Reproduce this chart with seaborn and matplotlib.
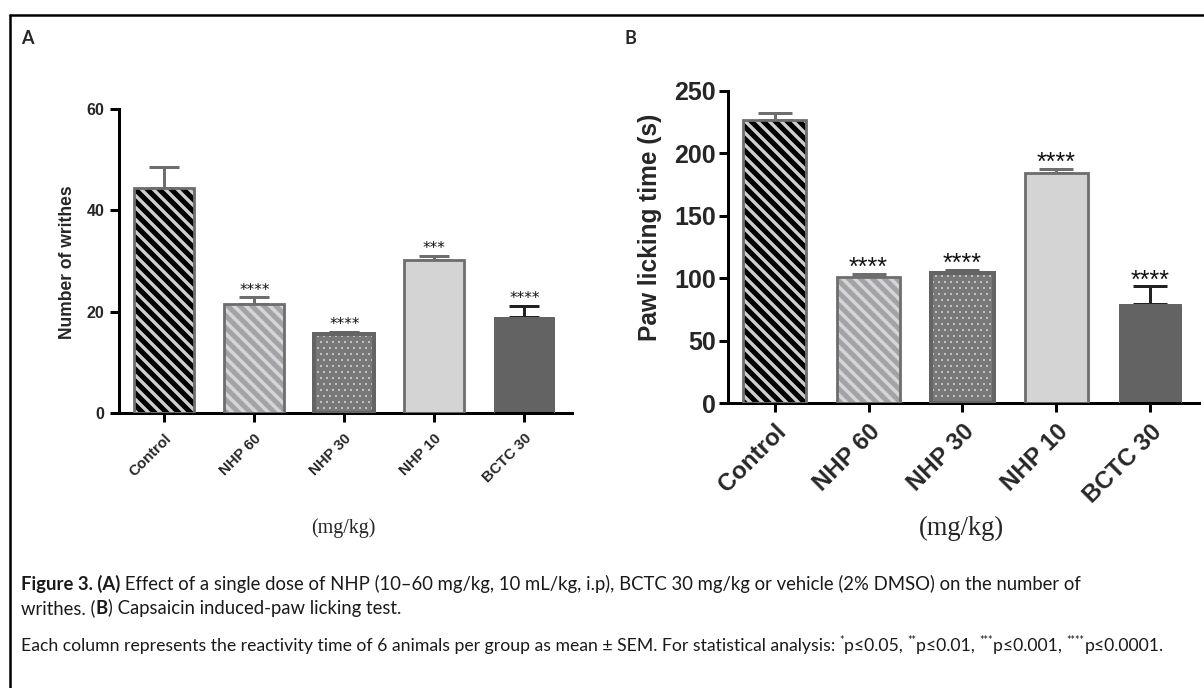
import numpy as np
import pandas as pd
import matplotlib
matplotlib.use("Agg")
import matplotlib.pyplot as plt
from matplotlib.lines import Line2D
import seaborn as sns

# ---------------- data ----------------
groups = ["Control", "NHP 60", "NHP 30", "NHP 10", "BCTC 30"]
writhes_mean = [44.5, 21.6, 15.5, 30.2, 19.0]
writhes_sem = [4.0, 1.2, 0.5, 0.8, 2.2]
writhes_stars = ["", "****", "****", "***", "****"]
lick_mean = [226.5, 100.8, 104.4, 183.9, 79.5]
lick_sem = [5.9, 2.4, 2.2, 3.2, 14.0]
lick_stars = ["", "****", "****", "****", "****"]
yticks_a = [0, 20, 40, 60]
yticks_b = [0, 50, 100, 150, 200, 250]
ylabel_a = "Number of writhes"
ylabel_b = "Paw licking time (s)"
xlabel = "(mg/kg)"

caption1 = [("Figure 3. (A)", "bold"),
            (" Effect of a single dose of NHP (10\u201360 mg/kg, 10 mL/kg, i.p), BCTC 30 mg/kg or vehicle (2% DMSO) on the number of", "normal")]
caption2 = [("writhes. (", "normal"), ("B", "bold"), (") Capsaicin induced-paw licking test.", "normal")]
caption3 = [("Each column represents the reactivity time of 6 animals per group as mean \u00b1 SEM. For statistical analysis: ", "normal", False),
            ("*", "normal", True), ("p\u22640.05, ", "normal", False),
            ("**", "normal", True), ("p\u22640.01, ", "normal", False),
            ("***", "normal", True), ("p\u22640.001, ", "normal", False),
            ("****", "normal", True), ("p\u22640.0001.", "normal", False)]

# ---------------- style ----------------
face = ["#000000", "#a3a3a7", "#787878", "#d4d4d4", "#636363"]
hatch_col = ["#cdcdcd", "#d5d5d5", "#e2e2e2", "#d4d4d4", "#636363"]
hatches = ["\\\\", "\\\\", "..", "", ""]
hatch_lw = [3.4, 3.6, 0.6, 0.5, 0.5]
edge = ["#6e6e6e", "#6e6e6e", "#646464", "#6e6e6e", "#636363"]
edge_lw = [2.8, 2.8, 4.0, 2.8, 1.0]
err_col = ["#6e6e6e", "#6e6e6e", "#646464", "#6e6e6e", "#222222"]

sns.set_theme(style="ticks")
plt.rcParams["font.family"] = ["Liberation Sans", "DejaVu Sans"]
plt.rcParams["hatch.linewidth"] = 3.5

W, H = 1204, 688
fig = plt.figure(figsize=(W / 72, H / 72), dpi=72)
fig.patch.set_facecolor("white")


def px_axes(x0, x1, y_top, y_bot):
    return fig.add_axes([x0 / W, 1 - y_bot / H, (x1 - x0) / W, (y_bot - y_top) / H])


def panel(ax, means, sems, stars, yticks, ylim, xlim, tick_fs, xtick_fs, star_fs,
          star_off, capsize, star_family):
    df = pd.DataFrame({"group": groups, "value": means})
    n = len(groups)
    sns.barplot(data=df, x="group", y="value", hue="group", palette=face, legend=False,
                width=0.665, errorbar=None, saturation=1, ax=ax)
    base = list(ax.patches)
    sns.barplot(data=df, x="group", y="value", hue="group", palette=face, legend=False,
                width=0.665, errorbar=None, saturation=1, ax=ax)
    outline = list(ax.patches)[n:]
    for i, p in enumerate(base):
        p.set_facecolor(face[i])
        p.set_edgecolor(hatch_col[i])
        p.set_hatch(hatches[i] if hatches[i] else None)
        p.set_linewidth(0)
        if hasattr(p, "set_hatch_linewidth"):
            p.set_hatch_linewidth(hatch_lw[i])
        else:
            p._hatch_linewidth = hatch_lw[i]
        p.set_zorder(2)
    for i, p in enumerate(outline):
        p.set_facecolor("none")
        p.set_edgecolor(edge[i])
        p.set_linewidth(edge_lw[i])
        p.set_hatch(None)
        p.set_zorder(3)
    for i in range(n):
        ax.errorbar([i], [means[i]], yerr=[[0], [sems[i]]], fmt="none", ecolor=err_col[i],
                    elinewidth=3, capsize=capsize, capthick=3, zorder=1)
        if stars[i]:
            ax.annotate(stars[i], xy=(i, means[i] + sems[i]), xytext=(0, star_off),
                        textcoords="offset points", ha="center", va="baseline",
                        fontsize=star_fs, color="#111111", family=star_family)
    ax.set_xlim(*xlim)
    ax.set_ylim(*ylim)
    ax.set_yticks(yticks)
    ax.set_yticklabels([str(t) for t in yticks], fontsize=tick_fs, fontweight="bold")
    ax.set_xticks(range(n))
    ax.set_xticklabels(groups, rotation=45, ha="right", rotation_mode="anchor",
                       fontsize=xtick_fs, fontweight="bold")
    sns.despine(ax=ax)
    for s in ("left", "bottom"):
        ax.spines[s].set_linewidth(3)
        ax.spines[s].set_color("black")
    ax.tick_params(axis="both", length=9, width=3, color="black", direction="out")
    ax.set_facecolor("white")


# Panel A
axA = px_axes(119.3, 572, 109, 413)
panel(axA, writhes_mean, writhes_sem, writhes_stars, yticks_a, (0, 60), (-0.5, 4.53),
      16, 15, 15, 2.5, 15, ["DejaVu Sans"])
axA.tick_params(axis="y", pad=6)
axA.tick_params(axis="x", pad=9)
axA.set_ylabel(ylabel_a, fontsize=17.5, fontweight="bold", va="center")
axA.yaxis.set_label_coords(-0.1155, 0.497)
axA.set_xlabel(xlabel, fontsize=20, family=["Liberation Serif"], va="center")
axA.xaxis.set_label_coords(0.494, -0.378)

# Panel B
axB = px_axes(727.7, 1199, 90.7, 403.3)
panel(axB, lick_mean, lick_sem, lick_stars, yticks_b, (0, 250), (-0.5, 4.52),
      25, 24, 25, -1, 17, ["Liberation Sans"])
axB.tick_params(axis="y", pad=3)
axB.tick_params(axis="x", pad=8)
axB.set_ylabel(ylabel_b, fontsize=24.5, fontweight="bold", va="center")
axB.yaxis.set_label_coords(-0.165, 0.564)
axB.set_xlabel(xlabel, fontsize=26.5, family=["Liberation Serif"], va="center")
axB.xaxis.set_label_coords(0.495, -0.399)

# panel letters
fig.text(27 / W, 1 - 38 / H, "A", ha="center", va="center", fontsize=18, fontweight="bold",
         family=["Lato", "DejaVu Sans"])
fig.text(630 / W, 1 - 38 / H, "B", ha="center", va="center", fontsize=18, fontweight="bold",
         family=["Lato", "DejaVu Sans"])

# frame lines
fig.add_artist(Line2D([9.5 / W, 1], [1 - 15 / H, 1 - 15 / H], color="black", lw=2.5,
                      transform=fig.transFigure))
fig.add_artist(Line2D([9.5 / W, 9.5 / W], [0, 1 - 15 / H], color="black", lw=2.5,
                      transform=fig.transFigure))

# caption
cap = fig.add_axes([0, 0, 1, 1], zorder=-5)
cap.axis("off")
cap.set_xlim(0, W)
cap.set_ylim(H, 0)
cap_family = ["Lato", "DejaVu Sans"]


def caption_line(y, pieces, fs):
    first = None
    prev = None
    for pc in pieces:
        txt, wt = pc[0], pc[1]
        sup = pc[2] if len(pc) > 2 else False
        size = fs * 0.6 if sup else fs
        if first is None:
            t = cap.text(21, y, txt, fontsize=size, fontweight=wt, family=cap_family,
                         ha="left", va="baseline", color="#1a1a1a")
            first = t
        else:
            t = cap.annotate(txt, xy=(1, 0), xycoords=(prev, first),
                             xytext=(0, fs * 0.45 if sup else 0), textcoords="offset points",
                             fontsize=size, fontweight=wt, family=cap_family,
                             ha="left", va="bottom", color="#1a1a1a")
        prev = t
    return first


caption_line(590, caption1, 18.5)
caption_line(614, caption2, 18.5)
caption_line(651, caption3, 17.6)

fig.savefig("out.png", dpi=72, facecolor="white")
